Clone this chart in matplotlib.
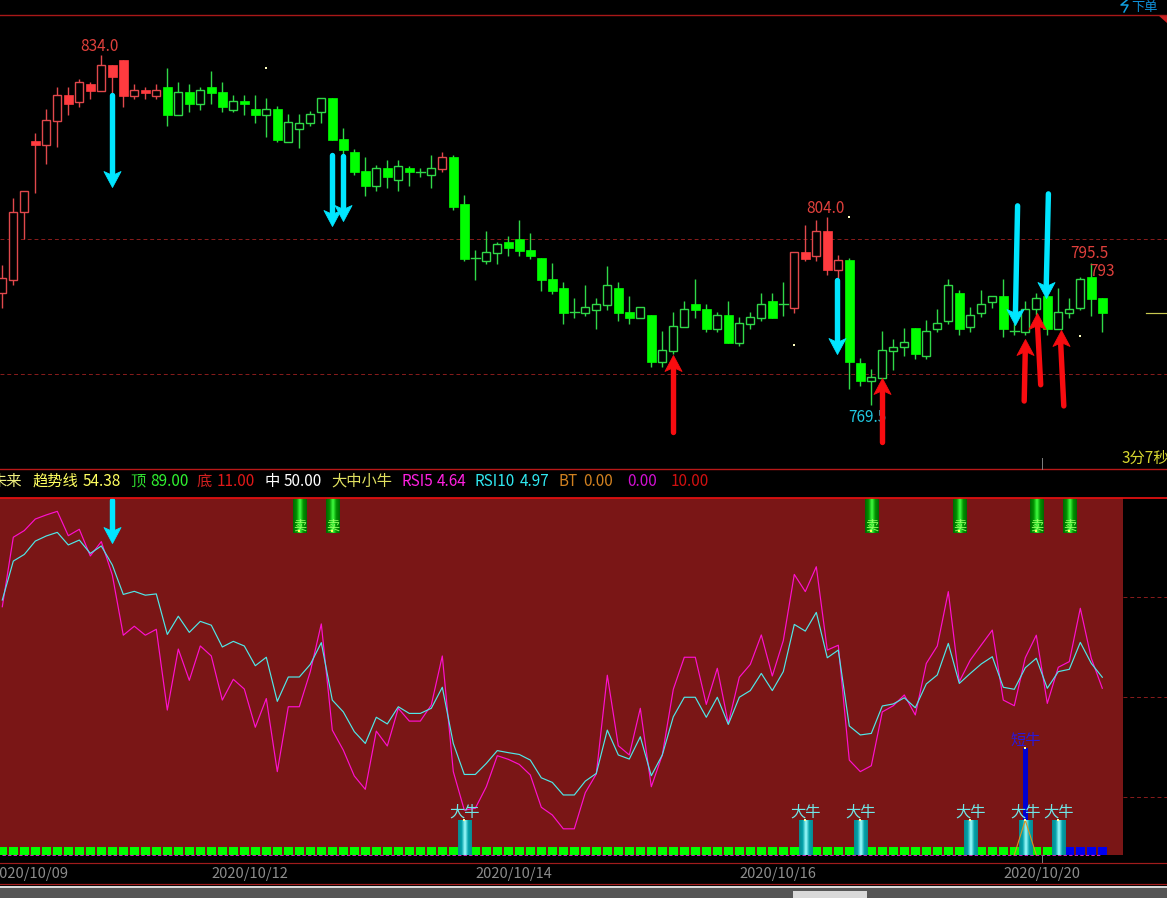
import numpy as np
import matplotlib
matplotlib.use('Agg')
import matplotlib.pyplot as plt
from matplotlib.colors import LinearSegmentedColormap
from matplotlib.patches import Rectangle, Polygon
from matplotlib.path import Path

plt.rcParams['font.family'] = ['Noto Sans CJK SC', 'DejaVu Sans']

# candles, one row per bar: open, high, low, close
ohlc = [
    [790.2, 795.3, 787.4, 792.9], [792.6, 807.7, 791.7, 805.1], [805.1, 809.0, 800.1, 809.0],
    [818.2, 819.6, 808.6, 817.4], [817.4, 824.0, 813.9, 822.0], [821.8, 828.1, 817.1, 826.6],
    [826.6, 828.1, 822.9, 825.0], [825.3, 829.6, 824.4, 829.0], [828.6, 829.0, 825.9, 827.4],
    [827.4, 834.0, 827.4, 832.1], [832.1, 832.1, 826.6, 829.9], [833.1, 833.1, 824.4, 826.4],
    [826.4, 828.6, 825.9, 827.5], [827.5, 828.1, 825.9, 827.0], [826.4, 828.6, 825.9, 827.5],
    [828.1, 831.6, 820.9, 822.9], [822.9, 829.0, 822.9, 827.2], [827.2, 828.6, 823.5, 825.0],
    [825.0, 828.1, 823.9, 827.5], [828.1, 831.0, 825.0, 827.0], [827.2, 829.0, 823.5, 824.4],
    [823.9, 826.6, 823.5, 825.5], [825.5, 826.6, 822.9, 825.0], [824.0, 826.6, 821.5, 822.9],
    [822.9, 826.1, 818.9, 824.0], [824.0, 824.6, 818.0, 818.3], [818.0, 823.1, 818.0, 821.6],
    [820.4, 823.1, 816.9, 821.5], [821.5, 823.7, 820.9, 823.1], [823.5, 826.1, 821.5, 826.1],
    [826.1, 826.1, 818.3, 818.3], [818.5, 820.5, 815.4, 816.5], [816.1, 816.7, 811.9, 812.5],
    [812.6, 815.2, 808.0, 809.9], [809.9, 813.7, 809.0, 813.2], [813.2, 814.7, 809.5, 811.5],
    [811.0, 814.7, 809.0, 813.6], [813.2, 813.6, 809.9, 812.5], [812.5, 813.2, 811.5, 812.5],
    [811.9, 815.6, 809.5, 813.2], [813.0, 816.1, 812.5, 815.2], [815.2, 815.6, 805.5, 806.0],
    [806.6, 808.2, 796.1, 796.4], [796.6, 798.1, 792.6, 796.6], [796.1, 801.6, 795.5, 797.7],
    [797.5, 799.6, 795.5, 799.2], [799.6, 800.7, 797.0, 798.5], [800.1, 803.6, 797.0, 797.9],
    [798.1, 801.2, 796.4, 797.0], [796.6, 796.6, 790.6, 792.6], [792.8, 795.7, 790.0, 790.6],
    [791.1, 792.2, 784.5, 786.5], [786.7, 789.3, 785.6, 786.7], [786.5, 791.7, 786.0, 787.6],
    [787.1, 789.3, 783.6, 788.2], [788.0, 795.2, 787.1, 791.7], [791.1, 792.2, 785.0, 786.5],
    [786.7, 789.6, 784.5, 785.6], [785.6, 787.6, 785.6, 787.6], [786.1, 786.1, 776.6, 777.5],
    [777.5, 783.2, 776.6, 779.7], [779.5, 786.7, 779.0, 784.1], [783.9, 788.7, 783.9, 787.2],
    [788.2, 792.8, 785.6, 787.1], [787.2, 788.2, 783.0, 783.6], [783.6, 786.7, 783.0, 786.1],
    [786.1, 788.7, 781.0, 781.0], [781.0, 785.8, 780.4, 784.7], [784.5, 786.7, 783.6, 785.8],
    [785.6, 790.2, 785.0, 788.2], [788.7, 790.2, 785.6, 785.6], [788.2, 792.2, 786.0, 788.2],
    [787.4, 797.7, 786.5, 797.7], [797.7, 802.7, 796.1, 796.4], [797.0, 803.6, 796.1, 801.6],
    [801.6, 804.2, 793.5, 794.4], [794.4, 797.2, 792.9, 796.3], [796.3, 796.6, 772.5, 777.5],
    [777.3, 778.2, 773.1, 774.0], [774.0, 776.2, 769.6, 774.7], [774.6, 783.2, 774.6, 779.7],
    [779.5, 781.7, 776.0, 780.3], [780.3, 783.8, 778.6, 781.2], [783.8, 783.8, 778.0, 779.0],
    [778.6, 785.2, 778.0, 783.2], [783.6, 787.2, 783.0, 784.7], [785.0, 792.8, 784.5, 791.7],
    [790.2, 790.7, 782.5, 783.6], [783.9, 787.6, 783.0, 786.1], [786.5, 790.7, 785.8, 788.2],
    [788.5, 789.6, 787.4, 789.6], [789.6, 792.8, 782.1, 783.6], [783.2, 784.7, 782.5, 783.2],
    [783.0, 788.7, 782.5, 787.2], [787.2, 790.2, 786.1, 789.3], [789.6, 789.6, 782.5, 783.6],
    [783.6, 791.1, 783.6, 786.7], [786.5, 789.3, 785.6, 787.2], [787.4, 793.1, 787.1, 792.8],
    [793.1, 795.7, 786.0, 789.1], [789.3, 789.3, 783.0, 786.5],
]
red_bars = list(range(15)) + [40, 72, 73, 74, 75, 76]

rsi5 = [
    85.2, 112.3, 114.9, 119.4, 121.0, 122.4, 112.9, 115.4, 105.0, 110.6, 97.6, 74.1, 77.6, 74.1, 76.4,
    44.9, 68.7, 56.5, 69.9, 66.0, 48.8, 56.9, 53.1, 38.2, 49.4, 20.9, 46.2, 46.2, 59.9, 78.5, 37.1,
    29.3, 19.2, 14.0, 36.7, 30.9, 45.6, 40.6, 40.6, 46.9, 66.0, 20.9, 5.9, 6.6, 15.0, 27.1, 25.7, 23.7,
    19.6, 7.0, 4.0, -1.4, -1.4, 12.7, 20.0, 58.5, 31.0, 27.4, 45.6, 15.0, 27.4, 53.0, 65.5, 65.5, 47.1,
    61.2, 39.7, 57.7, 62.7, 74.2, 58.2, 72.0, 97.8, 91.1, 100.8, 68.3, 70.2, 25.4, 20.9, 23.2, 44.2,
    46.6, 50.8, 43.0, 63.1, 69.9, 91.1, 56.0, 64.4, 70.3, 76.1, 48.8, 46.6, 65.3, 74.1, 47.5, 61.6,
    63.8, 84.6, 65.1, 53.4,
]
rsi10 = [
    87.8, 103.0, 105.6, 110.8, 112.8, 114.2, 109.3, 111.2, 106.0, 108.9, 101.5, 90.0, 91.2, 89.7, 90.2,
    74.4, 81.5, 75.2, 79.5, 78.0, 69.5, 71.7, 69.9, 62.2, 65.5, 48.3, 57.8, 57.8, 62.7, 71.2, 48.8,
    44.2, 36.5, 31.9, 42.1, 39.5, 46.2, 43.6, 43.6, 45.6, 53.8, 31.9, 19.8, 19.8, 24.1, 29.1, 28.3, 27.6,
    25.4, 18.5, 16.7, 11.8, 11.8, 17.2, 20.2, 37.1, 27.4, 25.8, 34.5, 19.3, 27.4, 42.3, 49.9, 49.9, 42.1,
    49.9, 39.3, 49.9, 52.5, 59.2, 52.5, 59.9, 78.3, 75.7, 83.0, 65.3, 68.3, 38.7, 35.2, 35.8, 46.5,
    47.3, 49.7, 45.8, 55.1, 58.6, 70.9, 55.3, 59.2, 62.9, 65.7, 53.8, 53.0, 61.4, 65.1, 53.4, 59.9,
    60.8, 71.3, 63.1, 57.7,
]

levels = [89, 50, 11]
sell_bars = [27, 30, 79, 87, 94, 97]
big_bull_bars = [42, 73, 78, 88, 93, 96]
short_bull_bar = 93
blue_bars = [97, 98, 99, 100]

# hand drawn arrows: bar start, price start, bar end, price end
down_arrows = [
    (10.0, 826.6, 10.0, 809.7), (30.0, 815.6, 30.0, 802.5), (31.0, 815.4, 31.0, 803.4),
    (75.9, 792.6, 75.9, 779.0), (92.3, 806.2, 92.1, 784.3), (95.1, 808.4, 94.9, 789.3),
]
up_arrows = [
    (61.0, 764.6, 61.0, 778.8), (80.0, 762.8, 80.0, 774.6), (92.9, 770.3, 93.0, 781.7),
    (94.4, 773.3, 94.1, 786.5), (96.5, 769.4, 96.2, 783.4),
]
price_labels = [
    ('834.0', 8.8, 835.5, '#e0403c'), ('804.0', 74.8, 805.7, '#e0403c'), ('769.5', 78.6, 767.3, '#20c8e0'),
    ('795.5', 98.8, 797.5, '#e0403c'), ('793', 100.0, 794.1, '#e0403c'),
]
dots = [(24, 831.6), (77, 804.2), (72, 780.6), (98, 782.3)]
dash_prices = [800.1, 775.3]

date_pos = [2.5, 22.5, 46.5, 70.5, 94.5]
date_labels = ['2020/10/09', '2020/10/12', '2020/10/14', '2020/10/16', '2020/10/20']

header = [
    (-8, '未来', '#f0f080'), (33, '趋势线', '#ffff60'), (83, '54.38', '#ffff60'), (130, '顶', '#30e030'),
    (150, '89.00', '#30f030'), (197, '底', '#d02020'), (217, '11.00', '#e01818'), (265, '中', '#ffffff'),
    (284, '50.00', '#ffffff'), (331, '大中小牛', '#e0e060'), (401, 'RSI5', '#ff20e0'), (437, '4.64', '#ff20e0'),
    (475, 'RSI10', '#30e8f0'), (520, '4.97', '#30e8f0'), (558, 'BT', '#d08020'), (583, '0.00', '#d08020'),
    (627, '0.00', '#d010d0'), (671, '10.00', '#d01010'),
]

W, H = 1167, 898
RED = '#ff3b3f'
RED_LINE = '#e0484c'
GREEN = '#00ff00'
GREEN_LINE = '#30d848'
PANEL = '#7a1616'
CYAN = '#00e6ff'
BX = 2.3
STEP = 11.0

# shallow barbed head, tip at the origin
HEAD_DOWN = Path([(0, 0), (-8, 15), (-2.5, 12.5), (2.5, 12.5), (8, 15), (0, 0)], closed=True)
HEAD_UP = Path([(0, 0), (-8, -15), (-2.5, -12.5), (2.5, -12.5), (8, -15), (0, 0)], closed=True)


def make_axes(top, bottom):
    ax = fig.add_axes([0, 1 - bottom / H, 1, (bottom - top) / H])
    ax.set_facecolor('none')
    ax.set_xlim(-BX / STEP, (W - BX) / STEP)
    for s in ax.spines.values():
        s.set_visible(False)
    ax.set_xticks([])
    ax.set_yticks([])
    return ax


def hline(y, color, lw=1.0, x0=0, x1=W):
    fig.add_artist(plt.Line2D([x0 / W, x1 / W], [1 - y / H, 1 - y / H], color=color, lw=lw * 0.72))


def hand_arrow(a, x0, y0, x1, y1, color, px_high):
    # shaft stops inside the head
    y_lo, y_hi = a.get_ylim()
    back = 10 * (y_hi - y_lo) / px_high
    sign = 1 if y1 < y0 else -1
    a.plot([x0, x1], [y0, y1 + sign * back], color=color, lw=3.9, zorder=6, solid_capstyle='round', clip_on=False)
    a.plot([x1], [y1], marker=HEAD_DOWN if y1 < y0 else HEAD_UP, ms=23, color=color, mew=0.6, mec=color,
           zorder=6, clip_on=False)


fig = plt.figure(figsize=(W / 100, H / 100), dpi=100, facecolor='black')

# --- candles
ax = make_axes(15, 469)
ax.set_ylim(757.8, 841.3)
for p in dash_prices:
    ax.axhline(p, color='#8a1c1c', lw=0.7, ls=(0, (4, 3)))
for i, (o, h, l, c) in enumerate(ohlc):
    is_red = i in red_bars
    line_col = RED_LINE if is_red else GREEN_LINE
    fill_col = RED if is_red else GREEN
    ax.plot([i, i], [l, h], color=line_col, lw=1.0, zorder=2, solid_capstyle='butt')
    if c < o:
        ax.add_patch(Rectangle((i - 0.4, c), 0.8, o - c, fc=fill_col, ec=fill_col, lw=0.5, zorder=3))
    elif c > o:
        ax.add_patch(Rectangle((i - 0.36, o), 0.72, c - o, fc='black', ec=line_col, lw=1.0, zorder=3))
    else:
        ax.plot([i - 0.4, i + 0.4], [o, o], color=line_col, lw=1.0, zorder=3)

for x, y in dots:
    ax.plot([x], [y], 's', ms=1.6, color='#ffffc0', mew=0)

for arrow in down_arrows:
    hand_arrow(ax, *arrow, CYAN, 454)
for arrow in up_arrows:
    hand_arrow(ax, *arrow, '#f80c10', 454)
for s, x, y, col in price_labels:
    # the last digit of 769.5 sits under the red arrow
    ax.text(x, y, s, color=col, fontsize=11, ha='center', va='center', zorder=5)

# --- indicator panel
ax2 = make_axes(498, 856)
ax2.set_ylim(-12.0, 127.6)
panel_end = (1123 - BX) / STEP
ax2.add_patch(Rectangle((ax2.get_xlim()[0], -11.6), panel_end - ax2.get_xlim()[0], 139.2, fc=PANEL, ec='none', zorder=0))
for lv in levels:
    ax2.plot([panel_end, ax2.get_xlim()[1]], [lv, lv], color='#8a1c1c', lw=0.7, ls=(0, (4, 3)), zorder=1)

bars_x = np.arange(len(rsi5))
for i in bars_x:
    col = '#0000f0' if i in blue_bars else GREEN
    ax2.add_patch(Rectangle((i - 0.41, -11.5), 0.82, 3.0, fc=col, ec='none', zorder=2))
ax2.plot([0, 100], [-11.6, -11.6], color='#d020c0', lw=0.8, ls=(0, (3, 2)), zorder=2)

teal = LinearSegmentedColormap.from_list('teal', ['#0a8a90', '#00a0a8', '#a0ffff', '#00a0a8', '#0a8a90'])
lime = LinearSegmentedColormap.from_list('lime', ['#006a00', '#009000', '#40ff40', '#009000', '#006a00'])
grad = np.linspace(0, 1, 32).reshape(1, -1)
for i in big_bull_bars:
    ax2.imshow(grad, cmap=teal, extent=(i - 0.6, i + 0.6, -11.6, 2.0), aspect='auto', zorder=3)
    ax2.text(i, 5.2, '大牛', color='#70e8e8', fontsize=11, ha='center', va='center', zorder=6)
    ax2.plot([i], [2.0], 's', ms=1.6, color='#ffffa0', mew=0, zorder=6)
for i in sell_bars:
    ax2.imshow(grad, cmap=lime, extent=(i - 0.6, i + 0.6, 114.0, 127.6), aspect='auto', zorder=3)
    ax2.text(i, 116.8, '卖', color='#90ff60', fontsize=9.5, ha='center', va='center', zorder=4)
    ax2.plot([i], [114.8], 's', ms=1.6, color='#ffff60', mew=0, zorder=5)
ax2.set_xlim(-BX / STEP, (W - BX) / STEP)
ax2.set_ylim(-12.0, 127.6)

ax2.bar(short_bull_bar, 28.1, width=0.45, bottom=2.0, color='#0000d0', zorder=4)
ax2.text(short_bull_bar, 33.0, '短牛', color='#2a18d8', fontsize=11, ha='center', va='center', zorder=6)
ax2.plot([short_bull_bar], [30.1], 's', ms=1.6, color='#ffffa0', mew=0, zorder=6)
ax2.plot([short_bull_bar - 1, short_bull_bar, short_bull_bar + 1], [-11.6, 2.0, -11.6], color='#e09020', lw=0.8, zorder=5)

ax2.plot(bars_x, rsi5, color='#ff10d0', lw=0.85, zorder=4)
ax2.plot(bars_x, rsi10, color='#50e8e8', lw=0.85, zorder=5)
hand_arrow(ax2, 10.0, 127.0, 10.0, 110.0, CYAN, 358)

# --- date strip
ax3 = make_axes(862, 884)
ax3.set_xticks(date_pos, date_labels, color='#8c8c8c', fontsize=10.5)
ax3.tick_params(axis='x', length=0, pad=-12.4, direction='in')

# --- frame and odd bits
hline(14.5, '#a81818', 1.4)
hline(469, '#b81818', 1.4)
hline(497.5, '#e01010', 1.8)
hline(862.5, '#a01c1c', 1.2)
hline(883.5, '#a01c1c', 1.2)
hline(313, '#c8c850', 1.2, 1146, 1167)
fig.add_artist(plt.Line2D([1042 / W, 1042 / W], [1 - 458 / H, 1 - 469 / H], color='#808080', lw=0.7))
fig.add_artist(plt.Line2D([1042 / W, 1042 / W], [1 - 855 / H, 1 - 862 / H], color='#808080', lw=0.7))
fig.add_artist(Rectangle((0, 0), 1, 10 / H, transform=fig.transFigure, fc='#555555', ec='none'))
fig.add_artist(Rectangle((0, 10 / H), 1, 2 / H, transform=fig.transFigure, fc='#d8d8d8', ec='none'))
fig.add_artist(Rectangle((793 / W, 0), 74 / W, 7 / H, transform=fig.transFigure, fc='#d8d8d8', ec='none'))
fig.add_artist(Polygon([(1158 / W, 1 - 15 / H), (1167 / W, 1 - 15 / H), (1167 / W, 1 - 23 / H)],
                       transform=fig.transFigure, fc='#c82020', ec='none'))
fig.add_artist(plt.Line2D([1127 / W, 1121 / W, 1128 / W, 1124 / W], [1 - 0 / H, 1 - 5 / H, 1 - 5 / H, 1 - 12 / H],
                          color='#10a0e0', lw=1.1))
fig.text(1131 / W, 1 - 7 / H, '下单', color='#1090d8', fontsize=9.5, va='center', ha='left')
fig.text(1122 / W, 1 - 458 / H, '3分7秒', color='#d8d830', fontsize=11, va='center', ha='left')

for x, s, col in header:
    fig.text(x / W, 1 - 481 / H, s, color=col, fontsize=11, va='center', ha='left')

fig.savefig('out.png', dpi=100, facecolor='black')
